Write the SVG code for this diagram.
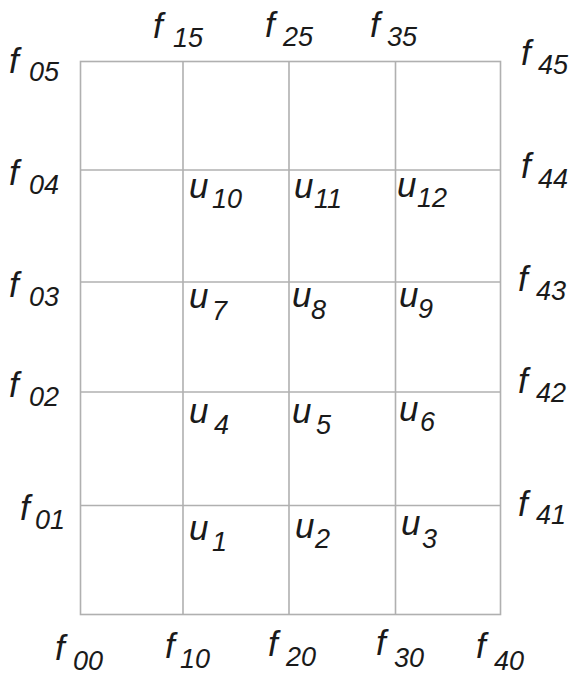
<svg xmlns="http://www.w3.org/2000/svg" width="576" height="675" viewBox="0 0 576 675">
<style>
.g{stroke:#b0b0b0;stroke-width:1.6;fill:none}
.t{font-family:"Liberation Sans",Arial,sans-serif;font-style:italic;fill:#1a1a1a}
.m{font-size:35px}
.s{font-size:27px}
</style>
<rect width="576" height="675" fill="#ffffff"/>
<g id="grid" class="g">
<rect x="80.5" y="61.5" width="420" height="553"/>
<line x1="183" y1="61.5" x2="183" y2="614.5"/>
<line x1="289" y1="61.5" x2="289" y2="614.5"/>
<line x1="395.5" y1="61.5" x2="395.5" y2="614.5"/>
<line x1="80.5" y1="170" x2="500.5" y2="170"/>
<line x1="80.5" y1="282" x2="500.5" y2="282"/>
<line x1="80.5" y1="392" x2="500.5" y2="392"/>
<line x1="80.5" y1="505.5" x2="500.5" y2="505.5"/>
</g>
<g id="labels-f" class="t">
<g id="f05"><text><tspan class="m" x="9" y="73">f</tspan><tspan class="s" x="29" y="81">05</tspan></text></g>
<g id="f15"><text><tspan class="m" x="153" y="38">f</tspan><tspan class="s" x="173" y="47">15</tspan></text></g>
<g id="f25"><text><tspan class="m" x="265" y="37">f</tspan><tspan class="s" x="283" y="46">25</tspan></text></g>
<g id="f35"><text><tspan class="m" x="370" y="37">f</tspan><tspan class="s" x="387" y="46">35</tspan></text></g>
<g id="f45"><text><tspan class="m" x="521" y="65">f</tspan><tspan class="s" x="538" y="74">45</tspan></text></g>
<g id="f04"><text><tspan class="m" x="9" y="185">f</tspan><tspan class="s" x="29" y="194">04</tspan></text></g>
<g id="f44"><text><tspan class="m" x="521" y="178">f</tspan><tspan class="s" x="538" y="188">44</tspan></text></g>
<g id="f03"><text><tspan class="m" x="9" y="297">f</tspan><tspan class="s" x="29" y="306">03</tspan></text></g>
<g id="f43"><text><tspan class="m" x="518" y="291">f</tspan><tspan class="s" x="536" y="300">43</tspan></text></g>
<g id="f02"><text><tspan class="m" x="9" y="397">f</tspan><tspan class="s" x="29" y="406">02</tspan></text></g>
<g id="f42"><text><tspan class="m" x="518" y="393">f</tspan><tspan class="s" x="536" y="402">42</tspan></text></g>
<g id="f01"><text><tspan class="m" x="20" y="520">f</tspan><tspan class="s" x="35" y="529">01</tspan></text></g>
<g id="f41"><text><tspan class="m" x="518" y="516">f</tspan><tspan class="s" x="536" y="524">41</tspan></text></g>
<g id="f00"><text><tspan class="m" x="55" y="660">f</tspan><tspan class="s" x="73" y="670">00</tspan></text></g>
<g id="f10"><text><tspan class="m" x="165" y="658">f</tspan><tspan class="s" x="180" y="668">10</tspan></text></g>
<g id="f20"><text><tspan class="m" x="268" y="656">f</tspan><tspan class="s" x="286" y="666">20</tspan></text></g>
<g id="f30"><text><tspan class="m" x="376" y="655">f</tspan><tspan class="s" x="394" y="667">30</tspan></text></g>
<g id="f40"><text><tspan class="m" x="476" y="658">f</tspan><tspan class="s" x="494" y="670">40</tspan></text></g>
</g>
<g id="labels-u" class="t">
<g id="u10"><text><tspan class="m" x="189" y="198">u</tspan><tspan class="s" x="212" y="208">10</tspan></text></g>
<g id="u11"><text><tspan class="m" x="294" y="198">u</tspan><tspan class="s" x="314" y="208">11</tspan></text></g>
<g id="u12"><text><tspan class="m" x="397" y="197">u</tspan><tspan class="s" x="417" y="207">12</tspan></text></g>
<g id="u7"><text><tspan class="m" x="189" y="308">u</tspan><tspan class="s" x="212" y="320">7</tspan></text></g>
<g id="u8"><text><tspan class="m" x="292" y="307">u</tspan><tspan class="s" x="311" y="319">8</tspan></text></g>
<g id="u9"><text><tspan class="m" x="399" y="307">u</tspan><tspan class="s" x="418" y="318">9</tspan></text></g>
<g id="u4"><text><tspan class="m" x="189" y="423">u</tspan><tspan class="s" x="214" y="434">4</tspan></text></g>
<g id="u5"><text><tspan class="m" x="292" y="423">u</tspan><tspan class="s" x="316" y="434">5</tspan></text></g>
<g id="u6"><text><tspan class="m" x="399" y="421">u</tspan><tspan class="s" x="420" y="431">6</tspan></text></g>
<g id="u1"><text><tspan class="m" x="189" y="540">u</tspan><tspan class="s" x="212" y="551">1</tspan></text></g>
<g id="u2"><text><tspan class="m" x="295" y="538">u</tspan><tspan class="s" x="315" y="548">2</tspan></text></g>
<g id="u3"><text><tspan class="m" x="401" y="535">u</tspan><tspan class="s" x="422" y="548">3</tspan></text></g>
</g>
</svg>
